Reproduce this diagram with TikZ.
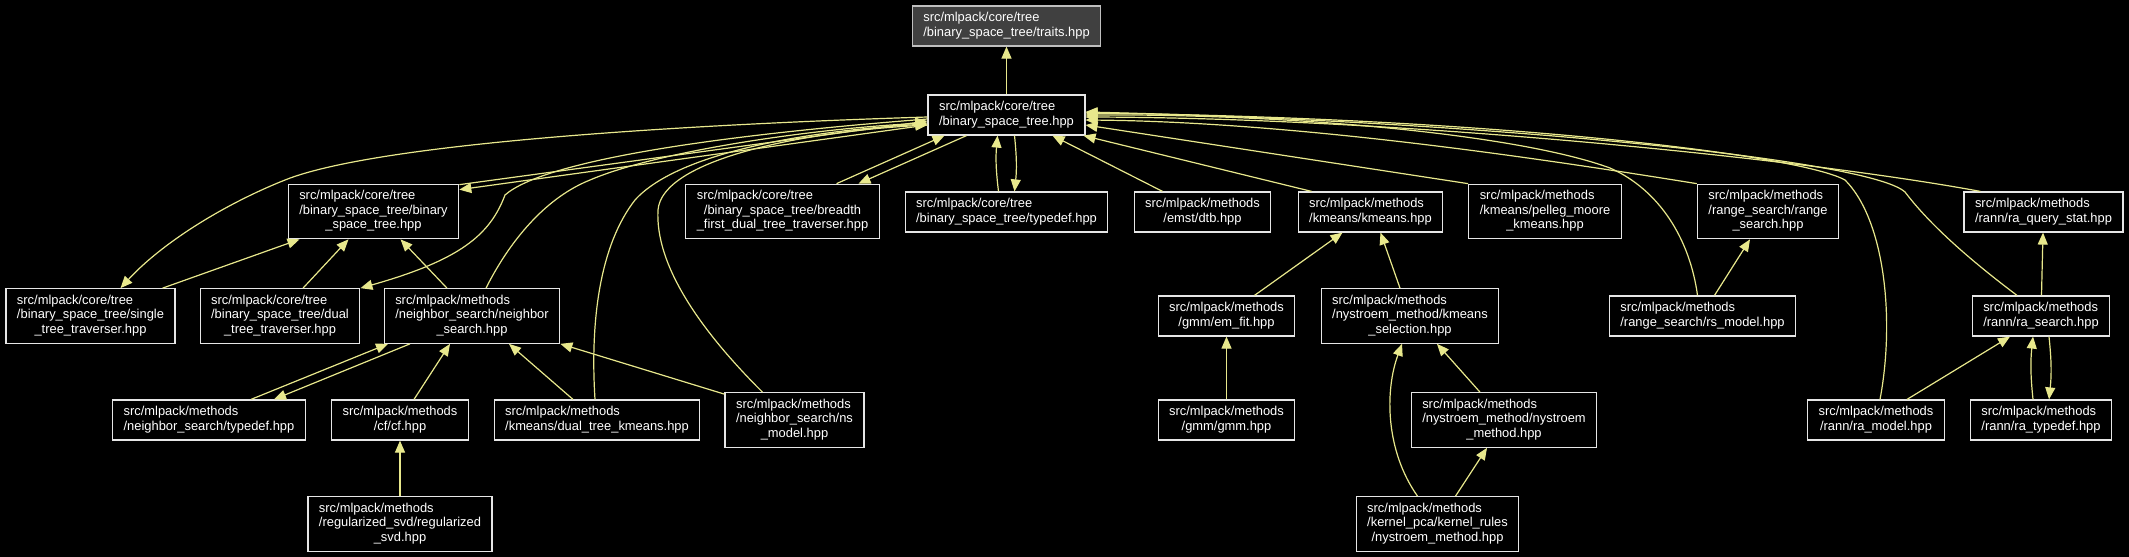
\documentclass[tikz,border=0pt]{standalone}
\usepackage{fontspec}
\setmainfont{Liberation Sans}
\usetikzlibrary{arrows.meta}

\definecolor{arista}{HTML}{E8E88C}
\definecolor{borde}{HTML}{E6E6E6}
\definecolor{raizborde}{HTML}{BFBFBF}
\definecolor{raizfondo}{HTML}{404040}

% primera linea a la izquierda, las demas centradas
\newcommand{\ruta}[2]{\begin{tabular}{@{}c@{}}\multicolumn{1}{@{}l@{}}{#1}\\#2\end{tabular}}

\begin{document}
\begin{tikzpicture}[x=1pt, y=-1pt,
    archivo/.style={draw=borde, fill=black, text=white, line width=1.2pt,
      inner xsep=11pt, inner ysep=5.5pt, font=\fontsize{12.9}{14.5}\selectfont},
    raiz/.style={archivo, draw=raizborde, fill=raizfondo},
    dep/.style={draw=arista, line width=1.2pt, -{Triangle[length=12pt,width=10pt]}}]

    % Fondo
    \fill[black] (0,0) rectangle (2129,557);
    \useasboundingbox (0,0) rectangle (2129,557);

    % Nivel superior
    \node[raiz] (traits) at (1006.5,26) {\ruta{src/mlpack/core/tree}{/binary\_space\_tree/traits.hpp}};
    \node[archivo] (bst) at (1006.5,115) {\ruta{src/mlpack/core/tree}{/binary\_space\_tree.hpp}};

    % Segundo nivel
    \node[archivo] (binbst) at (373.5,211.5) {\ruta{src/mlpack/core/tree}{/binary\_space\_tree/binary\\\_space\_tree.hpp}};
    \node[archivo] (breadth) at (782.5,211.5) {\ruta{src/mlpack/core/tree}{/binary\_space\_tree/breadth\\\_first\_dual\_tree\_traverser.hpp}};
    \node[archivo] (coretypedef) at (1006.5,212) {\ruta{src/mlpack/core/tree}{/binary\_space\_tree/typedef.hpp}};
    \node[archivo] (dtb) at (1202.5,212) {\ruta{src/mlpack/methods}{/emst/dtb.hpp}};
    \node[archivo] (kmeans) at (1370.5,212) {\ruta{src/mlpack/methods}{/kmeans/kmeans.hpp}};
    \node[archivo] (pelleg) at (1545,211.5) {\ruta{src/mlpack/methods}{/kmeans/pelleg\_moore\\\_kmeans.hpp}};
    \node[archivo] (rangesearch) at (1768,211.5) {\ruta{src/mlpack/methods}{/range\_search/range\\\_search.hpp}};
    \node[archivo] (querystat) at (2043.5,212) {\ruta{src/mlpack/methods}{/rann/ra\_query\_stat.hpp}};

    % Tercer nivel
    \node[archivo] (single) at (90.5,316) {\ruta{src/mlpack/core/tree}{/binary\_space\_tree/single\\\_tree\_traverser.hpp}};
    \node[archivo] (dual) at (280,316) {\ruta{src/mlpack/core/tree}{/binary\_space\_tree/dual\\\_tree\_traverser.hpp}};
    \node[archivo] (nsearch) at (472,316) {\ruta{src/mlpack/methods}{/neighbor\_search/neighbor\\\_search.hpp}};
    \node[archivo] (emfit) at (1226.5,316) {\ruta{src/mlpack/methods}{/gmm/em\_fit.hpp}};
    \node[archivo] (kmsel) at (1410,316) {\ruta{src/mlpack/methods}{/nystroem\_method/kmeans\\\_selection.hpp}};
    \node[archivo] (rsmodel) at (1702.5,316) {\ruta{src/mlpack/methods}{/range\_search/rs\_model.hpp}};
    \node[archivo] (rasearch) at (2041,316) {\ruta{src/mlpack/methods}{/rann/ra\_search.hpp}};

    % Cuarto nivel
    \node[archivo] (nstypedef) at (209,420) {\ruta{src/mlpack/methods}{/neighbor\_search/typedef.hpp}};
    \node[archivo] (cf) at (400,420) {\ruta{src/mlpack/methods}{/cf/cf.hpp}};
    \node[archivo] (dtkmeans) at (597,420) {\ruta{src/mlpack/methods}{/kmeans/dual\_tree\_kmeans.hpp}};
    \node[archivo] (nsmodel) at (794.5,420) {\ruta{src/mlpack/methods}{/neighbor\_search/ns\\\_model.hpp}};
    \node[archivo] (gmm) at (1226.5,420) {\ruta{src/mlpack/methods}{/gmm/gmm.hpp}};
    \node[archivo] (nystroem) at (1504,420) {\ruta{src/mlpack/methods}{/nystroem\_method/nystroem\\\_method.hpp}};
    \node[archivo] (ramodel) at (1876,420) {\ruta{src/mlpack/methods}{/rann/ra\_model.hpp}};
    \node[archivo] (ratypedef) at (2041,420) {\ruta{src/mlpack/methods}{/rann/ra\_typedef.hpp}};

    % Nivel inferior
    \node[archivo] (regsvd) at (400,524) {\ruta{src/mlpack/methods}{/regularized\_svd/regularized\\\_svd.hpp}};
    \node[archivo] (kernelrules) at (1437.5,524) {\ruta{src/mlpack/methods}{/kernel\_pca/kernel\_rules\\/nystroem\_method.hpp}};

    % Aristas hacia traits y desde el centro
    \draw[dep] (bst) -- (traits);
    \draw[dep] ([yshift=-10pt]bst.west) -- ([yshift=-6pt]binbst.north east);
    \draw[dep] ([yshift=-1pt]binbst.north east) -- ([yshift=-6pt]bst.west);
    \draw[dep] ([xshift=54pt]breadth.north) -- ([xshift=-62pt]bst.south);
    \draw[dep] ([xshift=-40pt]bst.south) -- ([xshift=76pt]breadth.north);
    \draw[dep] ([xshift=-8pt]coretypedef.north) to[bend left=6] ([xshift=-9pt]bst.south);
    \draw[dep] ([xshift=8pt]bst.south) to[bend left=6] ([xshift=8pt]coretypedef.north);
    \draw[dep] ([xshift=-40pt]dtb.north) -- ([xshift=46pt]bst.south);
    \draw[dep] ([xshift=14pt]kmeans.north west) -- ([xshift=-2pt]bst.south east);
    \draw[dep] (pelleg.north west) -- ([yshift=-10pt]bst.east);

    % Curvas de la izquierda
    \draw[dep] ([yshift=-2pt]bst.west) .. controls (700,124) and (380,142) .. (285,180)
      .. controls (220,206) and (160,245) .. ([xshift=30pt]single.north);
    \draw[dep] ([yshift=-4pt]bst.west) .. controls (720,135) and (545,160) .. (505,195)
      .. controls (490,235) and (460,260) .. (dual.north east);
    \draw[dep] ([xshift=14pt]nsearch.north) .. controls (505,250) and (540,200) .. (590,180)
      .. controls (660,150) and (820,128) .. ([yshift=-8pt]bst.west);
    \draw[dep] ([xshift=-2pt]dtkmeans.north) .. controls (590,320) and (600,245) .. (635,200)
      .. controls (680,150) and (820,130) .. ([yshift=-9pt]bst.west);
    \draw[dep] ([xshift=-32pt]nsmodel.north) .. controls (700,330) and (655,265) .. (658,210)
      .. controls (662,160) and (800,132) .. ([yshift=-10pt]bst.west);

    % Curvas de la derecha
    \draw[dep] (rangesearch.north west) .. controls (1550,160) and (1300,122) .. ([yshift=-5pt]bst.east);
    \draw[dep] ([xshift=17pt]querystat.north west) .. controls (1800,158) and (1400,118) .. ([yshift=-2pt]bst.east);
    \draw[dep] ([xshift=-5pt]rsmodel.north) .. controls (1690,240) and (1660,190) .. (1610,168)
      .. controls (1520,135) and (1300,114) .. (bst.east);
    \draw[dep] ([xshift=4pt]ramodel.north) .. controls (1895,320) and (1885,220) .. (1845,180)
      .. controls (1800,155) and (1500,118) .. ([yshift=2pt]bst.east);
    \draw[dep] ([xshift=-24pt]rasearch.north) .. controls (1970,260) and (1930,225) .. (1905,192)
      .. controls (1870,160) and (1500,122) .. ([yshift=3pt]bst.east);

    % Rama binary_space_tree
    \draw[dep] ([xshift=72pt]single.north) -- ([xshift=-74pt]binbst.south);
    \draw[dep] ([xshift=23pt]dual.north) -- ([xshift=-25pt]binbst.south);
    \draw[dep] ([xshift=-25pt]nsearch.north) -- ([xshift=27pt]binbst.south);

    % Rama neighbor_search
    \draw[dep] ([xshift=42pt]nstypedef.north) -- ([xshift=-84pt]nsearch.south);
    \draw[dep] ([xshift=-62pt]nsearch.south) -- ([xshift=65pt]nstypedef.north);
    \draw[dep] ([xshift=14pt]cf.north) -- ([xshift=-22pt]nsearch.south);
    \draw[dep] ([xshift=-24pt]dtkmeans.north) -- ([xshift=37pt]nsearch.south);
    \draw[dep] ([yshift=-2pt]nsmodel.north west) -- (nsearch.south east);
    \draw[dep] (regsvd) -- (cf);

    % Rama kmeans
    \draw[dep] ([xshift=28pt]emfit.north) -- ([xshift=-28pt]kmeans.south);
    \draw[dep] ([xshift=-10pt]kmsel.north) -- ([xshift=10pt]kmeans.south);
    \draw[dep] (gmm) -- (emfit);
    \draw[dep] ([xshift=-24pt]nystroem.north) -- ([xshift=27pt]kmsel.south);
    \draw[dep] ([xshift=-20pt]kernelrules.north) .. controls (1385,450) and (1385,390) .. ([xshift=-8pt]kmsel.south);
    \draw[dep] ([xshift=18pt]kernelrules.north) -- ([xshift=-17pt]nystroem.south);

    % Rama range_search y rann
    \draw[dep] ([xshift=12pt]rsmodel.north) -- ([xshift=-18pt]rangesearch.south);
    \draw[dep] (rasearch) -- (querystat);
    \draw[dep] ([xshift=31pt]ramodel.north) -- ([xshift=-31pt]rasearch.south);
    \draw[dep] ([xshift=-8pt]ratypedef.north) to[bend left=6] ([xshift=-8pt]rasearch.south);
    \draw[dep] ([xshift=8pt]rasearch.south) to[bend left=6] ([xshift=8pt]ratypedef.north);
\end{tikzpicture}
\end{document}
